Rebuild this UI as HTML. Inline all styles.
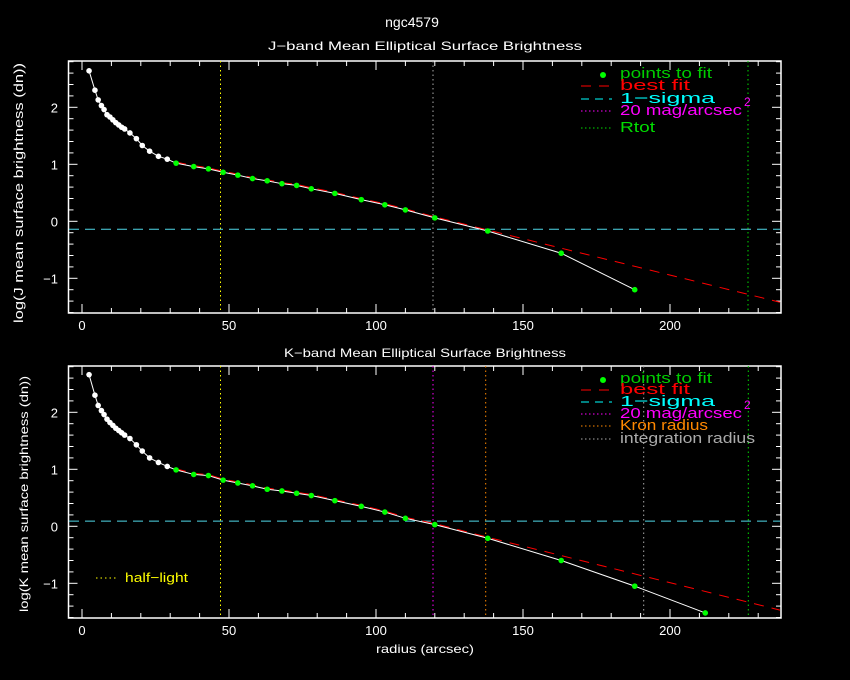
<!DOCTYPE html>
<html><head><meta charset="utf-8"><style>
html,body{margin:0;padding:0;background:#000;}
svg{display:block;}
text{font-family:"Liberation Sans",sans-serif;}
</style></head><body>
<svg id="s" width="850" height="680" xmlns="http://www.w3.org/2000/svg">
<rect width="850" height="680" fill="#000"/>
<text x="412" y="27" fill="#fff" font-size="14" text-anchor="middle">ngc4579</text>
<text x="268" y="50" fill="#fff" font-size="12" textLength="314" lengthAdjust="spacingAndGlyphs">J−band Mean Elliptical Surface Brightness</text>
<text x="284" y="357" fill="#fff" font-size="12" textLength="282" lengthAdjust="spacingAndGlyphs">K−band Mean Elliptical Surface Brightness</text>
<text x="376" y="653" fill="#fff" font-size="12" textLength="98" lengthAdjust="spacingAndGlyphs">radius (arcsec)</text>
<text transform="translate(23,323) rotate(-90)" fill="#fff" font-size="13" textLength="260" lengthAdjust="spacingAndGlyphs">log(J mean surface brightness (dn))</text>
<text transform="translate(28,612) rotate(-90)" fill="#fff" font-size="12" textLength="236" lengthAdjust="spacingAndGlyphs">log(K mean surface brightness (dn))</text>
<g id="g"></g>
</svg>
<script>
const g=document.getElementById('g');let h='';
const X=r=>82+2.94*r;
function panel(top,bottom,y0){
 const Y=v=>y0-57*v;
 h+=`<rect x="68.5" y="${top}" width="712.5" height="${bottom-top}" fill="none" stroke="#fff" stroke-width="1.5"/>`;
 for(let r=0;r<=230;r+=10){const x=X(r),m=r%50==0?9:5;
  h+=`<line x1="${x}" y1="${bottom}" x2="${x}" y2="${bottom-m}" stroke="#fff"/><line x1="${x}" y1="${top}" x2="${x}" y2="${top+m}" stroke="#fff"/>`;
  if(r%50==0)h+=`<text x="${x}" y="${bottom+17}" fill="#fff" font-size="13" text-anchor="middle">${r}</text>`;}
 for(let i=-8;i<=14;i++){const v=i/5,y=Y(v);if(y<top||y>bottom)continue;const m=i%5==0?9:5;
  h+=`<line x1="68.5" y1="${y}" x2="${68.5+m}" y2="${y}" stroke="#fff"/><line x1="781" y1="${y}" x2="${781-m}" y2="${y}" stroke="#fff"/>`;
  if(i%5==0)h+=`<text x="58" y="${y+5}" fill="#fff" font-size="13" text-anchor="end">${i<0?'−1':i/5}</text>`;}
 return Y;}
function vl(x,t,b,c){h+=`<line x1="${x}" y1="${t}" x2="${x}" y2="${b}" stroke="${c}" stroke-dasharray="1.5,3"/>`;}
function draw(Y,top,bottom,pts,hy,endv,vls){
 vls.forEach(v=>vl(v[0],top,bottom,v[1]));
 h+=`<line x1="69" y1="${Y(hy)}" x2="780" y2="${Y(hy)}" stroke="#4fd8e8" stroke-dasharray="10,6"/>`;
 const fp=pts.filter(p=>p[0]>=32&&p[0]<=138).map(p=>X(p[0])+','+(Y(p[1])-1));
 fp.push('780,'+Y(endv));
 h+=`<polyline fill="none" points="${fp.join(' ')}" stroke="#f00" stroke-dasharray="10,8"/>`;
 h+=`<polyline fill="none" stroke="#fff" points="${pts.map(p=>X(p[0])+','+Y(p[1])).join(' ')}"/>`;
 pts.forEach(p=>{h+=`<circle cx="${X(p[0])}" cy="${Y(p[1])}" r="2.8" fill="${p[0]>=31?'#0f0':'#fff'}"/>`;});}
const wJ=[[2.4,2.64],[4.4,2.3],[5.5,2.13],[6.6,2.03],[7.5,1.96],[8.5,1.87],[9.5,1.83],[10.5,1.78],[11.5,1.73],[12.5,1.69],[13.5,1.65],[14.5,1.62],[16.3,1.55],[18.5,1.45],[20.5,1.33],[23,1.23],[26,1.14],[29,1.09]];
const J=wJ.concat([[32,1.02],[38,0.96],[43,0.92],[48,0.86],[53,0.81],[58,0.75],[63,0.71],[68,0.66],[73,0.63],[78,0.57],[86,0.49],[95,0.38],[103,0.29],[110,0.2],[120,0.06],[138,-0.17],[163,-0.56],[188,-1.2]]);
const K=[[2.4,2.66],[4.4,2.3],[5.5,2.12],[6.6,2.03],[7.5,1.96],[8.5,1.88],[9.5,1.82],[10.5,1.77],[11.5,1.72],[12.5,1.68],[13.5,1.64],[14.5,1.6],[16.3,1.54],[18.5,1.43],[20.5,1.32],[23,1.2],[26,1.12],[29,1.05],
[32,0.99],[38,0.91],[43,0.89],[48,0.81],[53,0.76],[58,0.71],[63,0.65],[68,0.62],[73,0.58],[78,0.54],[86,0.45],[95,0.35],[103,0.25],[110,0.14],[120,0.03],[138,-0.21],[163,-0.6],[188,-1.05],[212,-1.52]];
let Y1=panel(61,313,221.3);
draw(Y1,61,313,J,-0.14,-1.42,[[220.5,'#ff0'],[433,'#aaa'],[748,'#0d0']]);
let Y2=panel(366,618,526.3);
draw(Y2,366,618,K,0.09,-1.47,[[220.5,'#ff0'],[433,'#f0f'],[485.7,'#f80'],[643.7,'#aaa'],[748.3,'#0d0']]);
function leg(y,c,t,w,dash,dot){
 if(dot)h+=`<circle cx="603" cy="${y-3}" r="3" fill="#0f0"/>`;
 else h+=`<line x1="581" y1="${y-4}" x2="612" y2="${y-4}" stroke="${c}" stroke-dasharray="${dash}"/>`;
 h+=`<text x="620" y="${y}" fill="${c}" font-size="15" textLength="${w}" lengthAdjust="spacingAndGlyphs">${t}</text>`;}
leg(78,'#0c0','points to fit',92,'',1);leg(90,'#f00','best fit',70,'10,8');leg(103,'#0ff','1−sigma',95,'8,6');
leg(115,'#f0f','20 mag/arcsec',122,'1.5,2.5');h+=`<text x="744" y="106" fill="#f0f" font-size="12">2</text>`;
leg(132,'#0d0','Rtot',35,'1.5,2.5');
leg(383,'#0c0','points to fit',92,'',1);leg(394,'#f00','best fit',70,'10,8');leg(406,'#0ff','1−sigma',95,'8,6');
leg(418,'#f0f','20 mag/arcsec',122,'1.5,2.5');h+=`<text x="744" y="409" fill="#f0f" font-size="12">2</text>`;
leg(430,'#f80','Kron radius',88,'1.5,2.5');leg(443,'#aaa','integration radius',135,'1.5,2.5');
h+=`<line x1="96" y1="578" x2="117" y2="578" stroke="#ff0" stroke-dasharray="1.5,3"/><text x="125" y="582" fill="#ff0" font-size="13" textLength="63" lengthAdjust="spacingAndGlyphs">half−light</text>`;
g.innerHTML=h;
</script>
</body></html>
